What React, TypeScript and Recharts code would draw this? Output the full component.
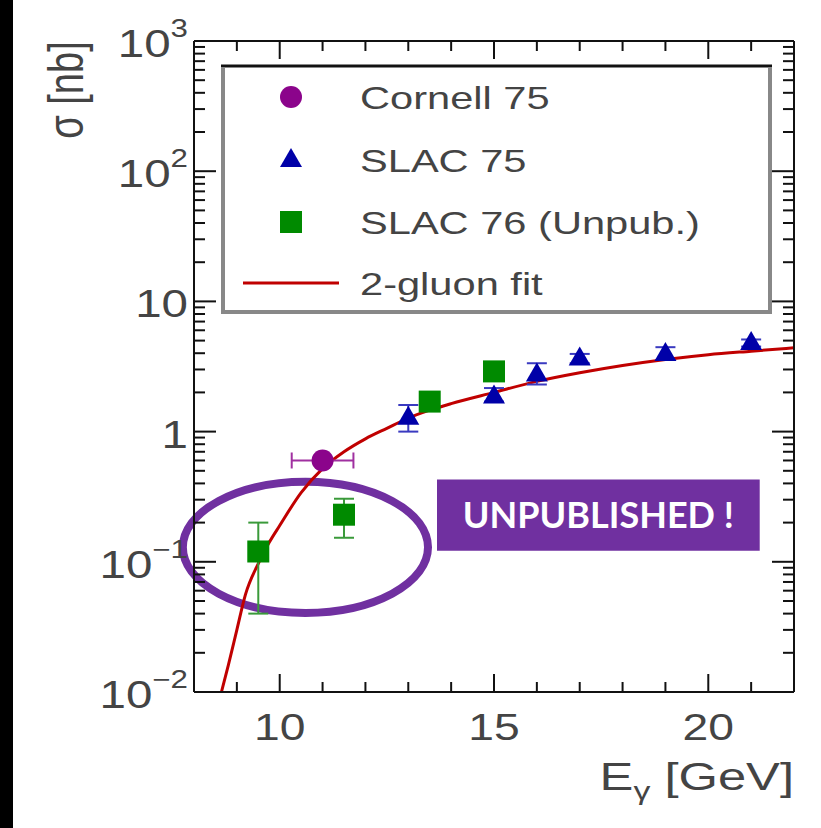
import React from "react";
import {
  ComposedChart,
  Line,
  Scatter,
  ErrorBar,
  XAxis,
  YAxis,
  ReferenceArea,
  Customized,
  Label,
} from "recharts";

// data (E in GeV, sigma in nb)
const cornell75 = [{ x: 11, y: 0.6, ex: 0.72 }];

const slac75 = [
  { x: 13, y: 1.28, ey: [0.28, 0.32] },
  { x: 15, y: 1.86, ey: [0.16, 0.3] },
  { x: 16, y: 2.75, ey: [0.45, 0.6] },
  { x: 17, y: 3.65, ey: [0.3, 0.3] },
  { x: 19, y: 3.95, ey: [0.4, 0.5] },
  { x: 21, y: 4.8, ey: [0.3, 0.3] },
];

const slac76 = [
  { x: 9.5, y: 0.12, ey: [0.08, 0.08] },
  { x: 11.5, y: 0.23, ey: [0.077, 0.075] },
  { x: 13.5, y: 1.7, ey: [0.1, 0.1] },
  { x: 15, y: 2.9, ey: [0.15, 0.15] },
];

const gluonFit = [
  { x: 8.64, y: 0.01 },
  { x: 8.8, y: 0.016 },
  { x: 9.0, y: 0.03 },
  { x: 9.2, y: 0.056 },
  { x: 9.5, y: 0.097 },
  { x: 9.75, y: 0.14 },
  { x: 10.0, y: 0.19 },
  { x: 10.5, y: 0.34 },
  { x: 11.0, y: 0.52 },
  { x: 11.5, y: 0.7 },
  { x: 12.0, y: 0.88 },
  { x: 12.5, y: 1.06 },
  { x: 13.0, y: 1.27 },
  { x: 13.5, y: 1.46 },
  { x: 14.0, y: 1.64 },
  { x: 15.0, y: 2.0 },
  { x: 16.0, y: 2.43 },
  { x: 17.0, y: 2.83 },
  { x: 18.0, y: 3.22 },
  { x: 19.0, y: 3.58 },
  { x: 20.0, y: 3.9 },
  { x: 21.0, y: 4.15 },
  { x: 22.0, y: 4.4 },
];

const seriesNames = ["Cornell 75", "SLAC 75", "SLAC 76 (Unpub.)", "2-gluon fit"];

const xTicks = [8, 9, 10, 11, 12, 13, 14, 15, 16, 17, 18, 19, 20, 21, 22];
const xLabelTicks = [10, 15, 20];

const yTicks = [
  0.01, 0.02, 0.03, 0.04, 0.05, 0.06, 0.07, 0.08, 0.09,
  0.1, 0.2, 0.3, 0.4, 0.5, 0.6, 0.7, 0.8, 0.9,
  1, 2, 3, 4, 5, 6, 7, 8, 9,
  10, 20, 30, 40, 50, 60, 70, 80, 90,
  100, 200, 300, 400, 500, 600, 700, 800, 900, 1000,
];
const yDecades = [0.01, 0.1, 1, 10, 100, 1000];
const yTickLabels = [
  ["10", "\u22122"],
  ["10", "\u22121"],
  ["1", ""],
  ["10", ""],
  ["10", "2"],
  ["10", "3"],
];

const FONT = "'Liberation Sans', Arial, sans-serif";
const TXT = "#444";
const PURPLE = "#7030a0";
const SX = 1.25; // the picture is a bit stretched horizontally

const decadeIndex = (v: number) =>
  yDecades.findIndex((d) => Math.abs(d - v) / d < 1e-6);

const BottomTick = (props: any) => {
  const { x, y, payload } = props;
  const major = xLabelTicks.includes(payload.value);
  return (
    <g>
      <line x1={x} x2={x} y1={y} y2={y - (major ? 18 : 10)} stroke="#111" strokeWidth={2} />
      {major && (
        <text
          transform={`translate(${x},${y + 48}) scale(${SX},1)`}
          textAnchor="middle"
          fontFamily={FONT}
          fontSize={37}
          fill={TXT}
        >
          {payload.value}
        </text>
      )}
    </g>
  );
};

const TopTick = (props: any) => {
  const { x, y, payload } = props;
  const major = xLabelTicks.includes(payload.value);
  return <line x1={x} x2={x} y1={y} y2={y + (major ? 18 : 10)} stroke="#111" strokeWidth={2} />;
};

const LeftTick = (props: any) => {
  const { x, y, payload } = props;
  const i = decadeIndex(payload.value);
  return (
    <g>
      <line x1={x} x2={x + (i >= 0 ? 22 : 11)} y1={y} y2={y} stroke="#111" strokeWidth={2} />
      {i >= 0 && (
        <text
          transform={`translate(${x - 6},${y + 16}) scale(${SX},1)`}
          textAnchor="end"
          fontFamily={FONT}
          fontSize={38}
          fill={TXT}
        >
          {yTickLabels[i][0]}
          {yTickLabels[i][1] && (
            <tspan dy={-20} fontSize={25}>
              {yTickLabels[i][1]}
            </tspan>
          )}
        </text>
      )}
    </g>
  );
};

const RightTick = (props: any) => {
  const { x, y, payload } = props;
  const i = decadeIndex(payload.value);
  return <line x1={x} x2={x - (i >= 0 ? 22 : 11)} y1={y} y2={y} stroke="#111" strokeWidth={2} />;
};

const circleShape = (p: any) => <circle cx={p.cx} cy={p.cy} r={11} fill="#8b048b" />;
const triangleShape = (p: any) => (
  <polygon
    points={`${p.cx},${p.cy - 12} ${p.cx - 11},${p.cy + 7} ${p.cx + 11},${p.cy + 7}`}
    fill="#0000a8"
  />
);
const squareShape = (p: any) => (
  <rect x={p.cx - 11} y={p.cy - 11} width={22} height={22} fill="#008a00" />
);

const legendIcons = [
  (cx: number, cy: number) => <circle cx={cx} cy={cy} r={11} fill="#8b048b" />,
  (cx: number, cy: number) => triangleShape({ cx, cy }),
  (cx: number, cy: number) => squareShape({ cx, cy }),
  (cx: number, cy: number) => (
    <line x1={cx - 48} x2={cx + 48} y1={cy} y2={cy} stroke="#c00000" strokeWidth={3} />
  ),
];

const LegendBox = () => {
  const rows = [97, 160, 222, 283];
  return (
    <g>
      <rect x={223} y={66} width={547} height={246} fill="#fff" stroke="#888" strokeWidth={4} />
      <line x1={221} x2={772} y1={66} y2={66} stroke="#111" strokeWidth={2} />
      {seriesNames.map((name, i) => (
        <g key={name}>
          {legendIcons[i](291, rows[i])}
          <text
            transform={`translate(360,${rows[i] + 12}) scale(1.3,1)`}
            fontFamily={FONT}
            fontSize={32}
            fill={TXT}
          >
            {name}
          </text>
        </g>
      ))}
    </g>
  );
};

const AxisTitles = () => (
  <g fontFamily={FONT} fill={TXT}>
    <text
      transform={`translate(794,790) scale(1.3,1)`}
      textAnchor="end"
      fontSize={39}
    >
      E
      <tspan fontSize={26} dy={10}>
        {"\u03b3"}
      </tspan>
      <tspan dy={-10}> [GeV]</tspan>
    </text>
    <text
      transform={`translate(83,90) scale(1.3,1) rotate(-90)`}
      textAnchor="middle"
      fontSize={38}
    >
      {"\u03c3 [nb]"}
    </text>
  </g>
);

const ellipseShape = (p: any) => (
  <ellipse
    cx={p.x + p.width / 2}
    cy={p.y + p.height / 2}
    rx={Math.abs(p.width) / 2}
    ry={Math.abs(p.height) / 2}
    fill="none"
    stroke={PURPLE}
    strokeWidth={8}
  />
);

export default function App() {
  return (
    <div style={{ position: "absolute", left: 0, top: 0, width: 821, height: 828, background: "#fff" }}>
      <div style={{ position: "absolute", left: 0, top: 0, width: 13, height: 828, background: "#000", zIndex: 2 }} />
      <ComposedChart
        width={821}
        height={828}
        margin={{ top: 40, left: 193, right: 26, bottom: 135 }}
      >
        <XAxis
          xAxisId="b"
          dataKey="x"
          type="number"
          domain={[8, 22]}
          allowDataOverflow
          ticks={xTicks}
          interval={0}
          height={1}
          tickSize={0}
          tickMargin={0}
          tickLine={false}
          axisLine={{ stroke: "#111", strokeWidth: 2 }}
          tick={BottomTick}
        />
        <XAxis
          xAxisId="t"
          orientation="top"
          dataKey="x"
          type="number"
          domain={[8, 22]}
          allowDataOverflow
          ticks={xTicks}
          interval={0}
          height={1}
          tickSize={0}
          tickMargin={0}
          tickLine={false}
          axisLine={{ stroke: "#111", strokeWidth: 2 }}
          tick={TopTick}
        />
        <YAxis
          yAxisId="l"
          dataKey="y"
          scale="log"
          type="number"
          domain={[0.01, 1000]}
          allowDataOverflow
          ticks={yTicks}
          interval={0}
          width={1}
          tickSize={0}
          tickMargin={0}
          tickLine={false}
          axisLine={{ stroke: "#111", strokeWidth: 2 }}
          tick={LeftTick}
        />
        <YAxis
          yAxisId="r"
          orientation="right"
          dataKey="y"
          scale="log"
          type="number"
          domain={[0.01, 1000]}
          allowDataOverflow
          ticks={yTicks}
          interval={0}
          width={1}
          tickSize={0}
          tickMargin={0}
          tickLine={false}
          axisLine={{ stroke: "#111", strokeWidth: 2 }}
          tick={RightTick}
        />

        <Line
          xAxisId="b"
          yAxisId="l"
          data={gluonFit}
          dataKey="y"
          type="monotone"
          stroke="#c00000"
          strokeWidth={3}
          dot={false}
          activeDot={false}
          isAnimationActive={false}
          name={seriesNames[3]}
        />
        <Scatter
          xAxisId="b"
          yAxisId="l"
          data={cornell75}
          dataKey="y"
          shape={circleShape}
          isAnimationActive={false}
          name={seriesNames[0]}
        >
          <ErrorBar dataKey="ex" direction="x" width={8} stroke="#a030a0" strokeWidth={2} />
        </Scatter>
        <Scatter
          xAxisId="b"
          yAxisId="l"
          data={slac75}
          dataKey="y"
          shape={triangleShape}
          isAnimationActive={false}
          name={seriesNames[1]}
        >
          <ErrorBar dataKey="ey" direction="y" width={10} stroke="#3a3ac0" strokeWidth={2} />
        </Scatter>
        <Scatter
          xAxisId="b"
          yAxisId="l"
          data={slac76}
          dataKey="y"
          shape={squareShape}
          isAnimationActive={false}
          name={seriesNames[2]}
        >
          <ErrorBar dataKey="ey" direction="y" width={10} stroke="#3a9a3a" strokeWidth={2} />
        </Scatter>

        <ReferenceArea
          xAxisId="b"
          yAxisId="l"
          x1={7.74}
          x2={13.46}
          y1={0.0405}
          y2={0.412}
          ifOverflow="visible"
          shape={ellipseShape}
        />
        <ReferenceArea
          xAxisId="b"
          yAxisId="l"
          x1={13.67}
          x2={21.2}
          y1={0.1215}
          y2={0.428}
          ifOverflow="visible"
          fill={PURPLE}
          fillOpacity={1}
          stroke="none"
        >
          <Label
            value="UNPUBLISHED !"
            position="center"
            fill="#fff"
            fontSize={36}
            fontWeight="bold"
            fontFamily="Lato, 'Open Sans', sans-serif"
          />
        </ReferenceArea>

        <Customized component={LegendBox} />
        <Customized component={AxisTitles} />
      </ComposedChart>
    </div>
  );
}
